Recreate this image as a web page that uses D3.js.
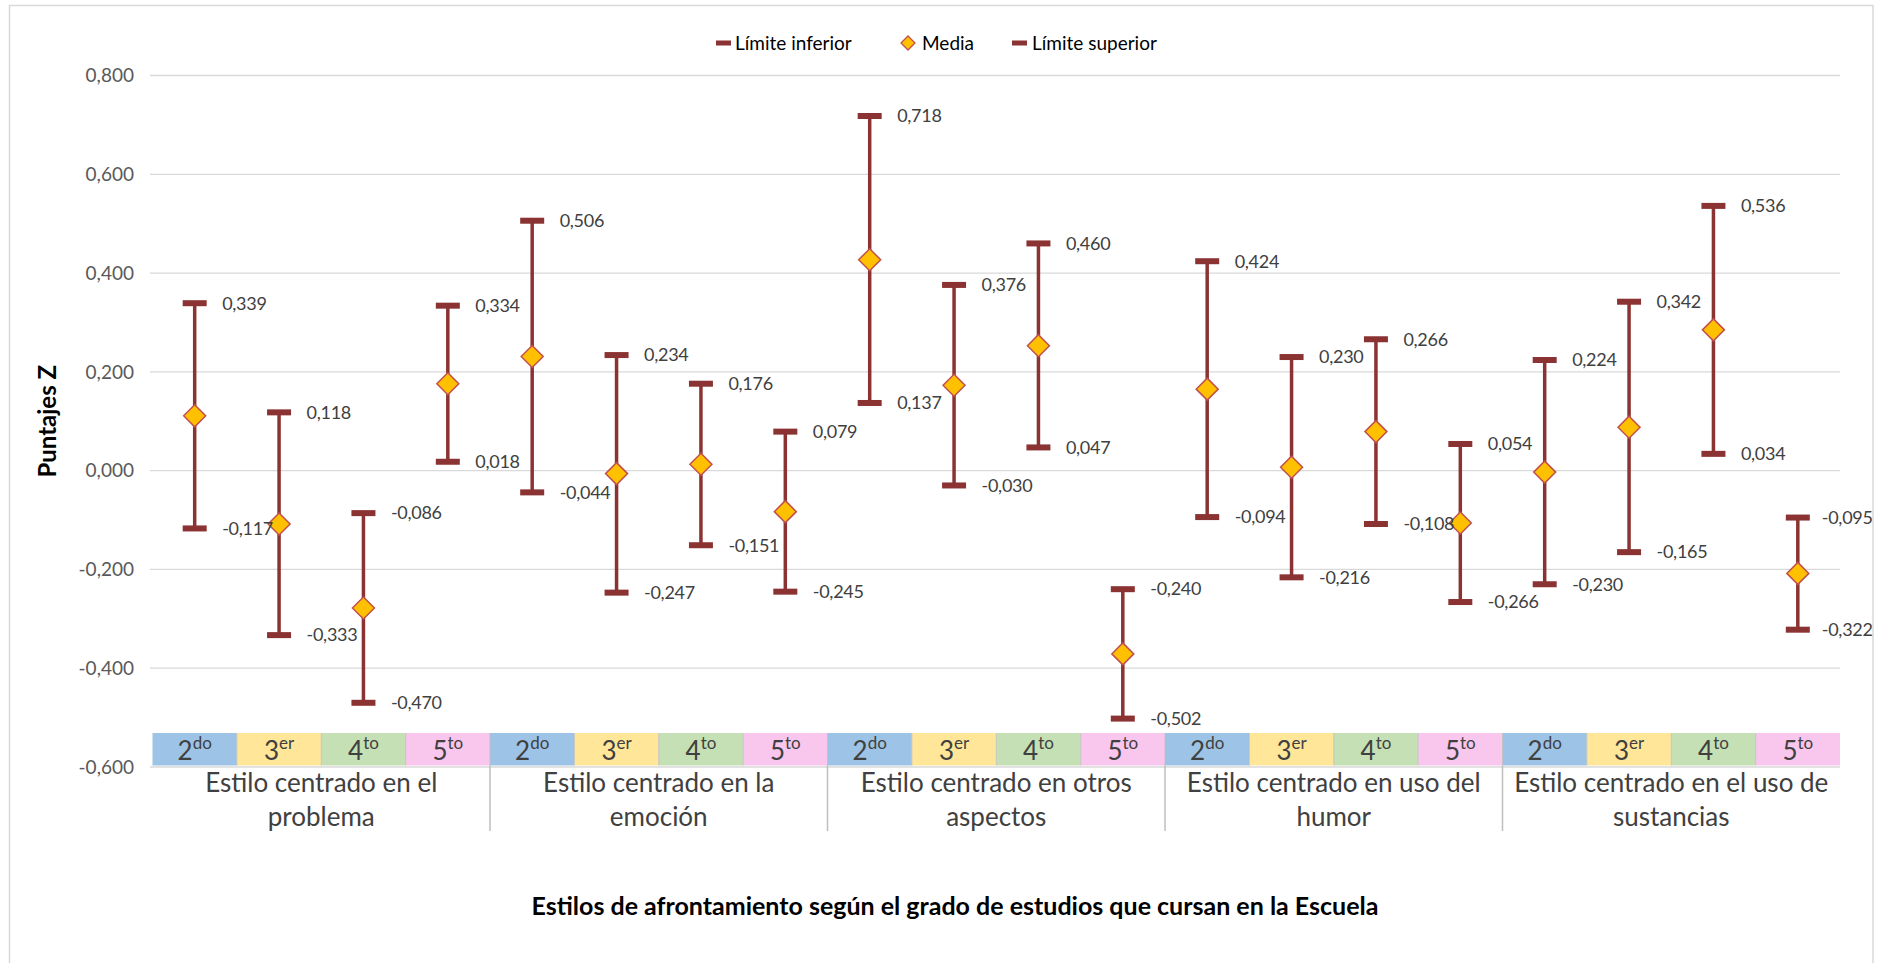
<!DOCTYPE html>
<html><head><meta charset="utf-8">
<script src="https://cdn.jsdelivr.net/npm/d3@7"></script>
<style>
html,body{margin:0;padding:0;background:#fff;}
svg{display:block;font-family:Lato,"Open Sans",sans-serif;}
</style></head>
<body>
<svg id="chart" width="1877" height="963"></svg>
<script>
const groups = ["Estilo centrado en el|problema","Estilo centrado en la|emoción","Estilo centrado en otros|aspectos","Estilo centrado en uso del|humor","Estilo centrado en el uso de|sustancias"];
const grades = [["2","do"],["3","er"],["4","to"],["5","to"]];
const gradeColors = ["#9dc3e6","#ffe699","#c5e0b4","#f9c6ee"];
const upper = [0.339,0.118,-0.086,0.334, 0.506,0.234,0.176,0.079, 0.718,0.376,0.460,-0.240, 0.424,0.230,0.266,0.054, 0.224,0.342,0.536,-0.095];
const lower = [-0.117,-0.333,-0.470,0.018, -0.044,-0.247,-0.151,-0.245, 0.137,-0.030,0.047,-0.502, -0.094,-0.216,-0.108,-0.266, -0.230,-0.165,0.034,-0.322];
const media = [0.111,-0.108,-0.278,0.176, 0.231,-0.006,0.013,-0.083, 0.427,0.173,0.253,-0.371, 0.165,0.007,0.079,-0.106, -0.003,0.088,0.285,-0.208];
const yTicks = [-0.6,-0.4,-0.2,0,0.2,0.4,0.6,0.8];
const legendLabels = ["Límite inferior","Media","Límite superior"];
const yTitle = "Puntajes Z";
const xTitle = "Estilos de afrontamiento según el grado de estudios que cursan en la Escuela";

const svg = d3.select("#chart");
const fmt = v => d3.format(".3f")(v).replace("−","-").replace(".",",");
const lineColor = "#8b3333", dFill = "#ffc000", dStroke = "#c0504d", txt = "#404040";

const L = 152.5, R = 1840, T = 75.5, B = 767;
const idx = d3.range(upper.length);
const x = d3.scaleBand().domain(idx).range([L,R]).padding(0);
const y = d3.scaleLinear().domain([-0.6,0.8]).range([B,T]);

// frame
svg.append("rect").attr("x",9.5).attr("y",5.5).attr("width",1863.5).attr("height",1000)
  .attr("fill","none").attr("stroke","#d9d9d9").attr("stroke-width",1.5);

// gridlines
svg.append("g").selectAll("line").data(yTicks).join("line")
  .attr("x1",150).attr("x2",R).attr("y1",d=>y(d)).attr("y2",d=>y(d))
  .attr("stroke","#d9d9d9").attr("stroke-width",1.3);

// y tick labels
svg.append("g").selectAll("text").data(yTicks).join("text")
  .attr("x",134).attr("y",d=>y(d)).attr("dy","0.35em").attr("text-anchor","end")
  .attr("font-size",19).attr("fill","#595959").text(d=>fmt(d));

// y title
svg.append("text").attr("transform",`translate(56,${(T+B)/2}) rotate(-90)`)
  .attr("text-anchor","middle").attr("font-size",24).attr("font-weight","bold")
  .attr("fill","#000").text(yTitle);

// category band
const bandTop = 733, bandBot = 765.5;
const cells = svg.append("g");
idx.forEach(i => {
  const g = i % 4;
  cells.append("rect").attr("x",x(i)).attr("y",bandTop).attr("width",x.bandwidth()).attr("height",bandBot-bandTop)
    .attr("fill",gradeColors[g]);
  const t = cells.append("text").attr("x",x(i)+x.bandwidth()/2).attr("y",bandTop+27)
    .attr("text-anchor","middle").attr("fill",txt);
  t.append("tspan").attr("font-size",26).text(grades[g][0]);
  t.append("tspan").attr("font-size",17).attr("dy",-11).text(grades[g][1]);
});
cells.selectAll("line.cs").data(idx.slice(1)).join("line")
  .attr("x1",d=>x(d)).attr("x2",d=>x(d)).attr("y1",bandTop).attr("y2",bandBot)
  .attr("stroke","#bfbfbf").attr("stroke-width",0.8);

// group labels & separators
const gw = x.bandwidth()*4;
groups.forEach((gname,gi) => {
  const cx = L + gw*gi + gw/2;
  const lines = gname.split("|");
  lines.forEach((ln,li) => {
    svg.append("text").attr("x",cx).attr("y",792+li*33.5).attr("text-anchor","middle")
      .attr("font-size",26).attr("fill",txt).text(ln);
  });
  if (gi>0) svg.append("line").attr("x1",L+gw*gi).attr("x2",L+gw*gi).attr("y1",bandBot).attr("y2",831)
    .attr("stroke","#bfbfbf").attr("stroke-width",1.5);
});

// x title
svg.append("text").attr("x",955).attr("y",915).attr("text-anchor","middle")
  .attr("font-size",25).attr("font-weight","bold").attr("fill","#000").text(xTitle);

// error bars
const eb = svg.append("g");
idx.forEach(i => {
  const cx = x(i)+x.bandwidth()/2;
  eb.append("line").attr("x1",cx).attr("x2",cx).attr("y1",y(upper[i])).attr("y2",y(lower[i]))
    .attr("stroke",lineColor).attr("stroke-width",3.5);
  [upper[i],lower[i]].forEach(v => {
    eb.append("rect").attr("x",cx-12).attr("y",y(v)-3).attr("width",24).attr("height",6).attr("fill",lineColor);
  });
});
// diamonds
const dsz = 11;
svg.append("g").selectAll("path").data(idx).join("path")
  .attr("d",i => { const cx=x(i)+x.bandwidth()/2, cy=y(media[i]); return `M${cx},${cy-dsz}L${cx+dsz},${cy}L${cx},${cy+dsz}L${cx-dsz},${cy}Z`; })
  .attr("fill",dFill).attr("stroke",dStroke).attr("stroke-width",1.5);

// data labels
const lab = svg.append("g").attr("font-size",18).attr("letter-spacing",-0.3).attr("fill",txt);
idx.forEach(i => {
  const cx = x(i)+x.bandwidth()/2;
  [upper[i],lower[i]].forEach(v => {
    lab.append("text").attr("x",cx + (i===idx.length-1 ? 24 : 27.5)).attr("y",y(v)).attr("dy","0.35em").text(fmt(v));
  });
});

// legend
const lg = svg.append("g").attr("font-size",19).attr("fill","#000");
const ly = 43;
lg.append("rect").attr("x",716).attr("y",ly-2.5).attr("width",15).attr("height",5).attr("fill",lineColor);
lg.append("text").attr("x",735).attr("y",ly).attr("dy","0.35em").text(legendLabels[0]);
lg.append("path").attr("d",`M908,${ly-7}L915,${ly}L908,${ly+7}L901,${ly}Z`).attr("fill",dFill).attr("stroke",dStroke).attr("stroke-width",1.3);
lg.append("text").attr("x",922).attr("y",ly).attr("dy","0.35em").text(legendLabels[1]);
lg.append("rect").attr("x",1012).attr("y",ly-2.5).attr("width",15).attr("height",5).attr("fill",lineColor);
lg.append("text").attr("x",1032).attr("y",ly).attr("dy","0.35em").text(legendLabels[2]);
</script>
</body></html>
